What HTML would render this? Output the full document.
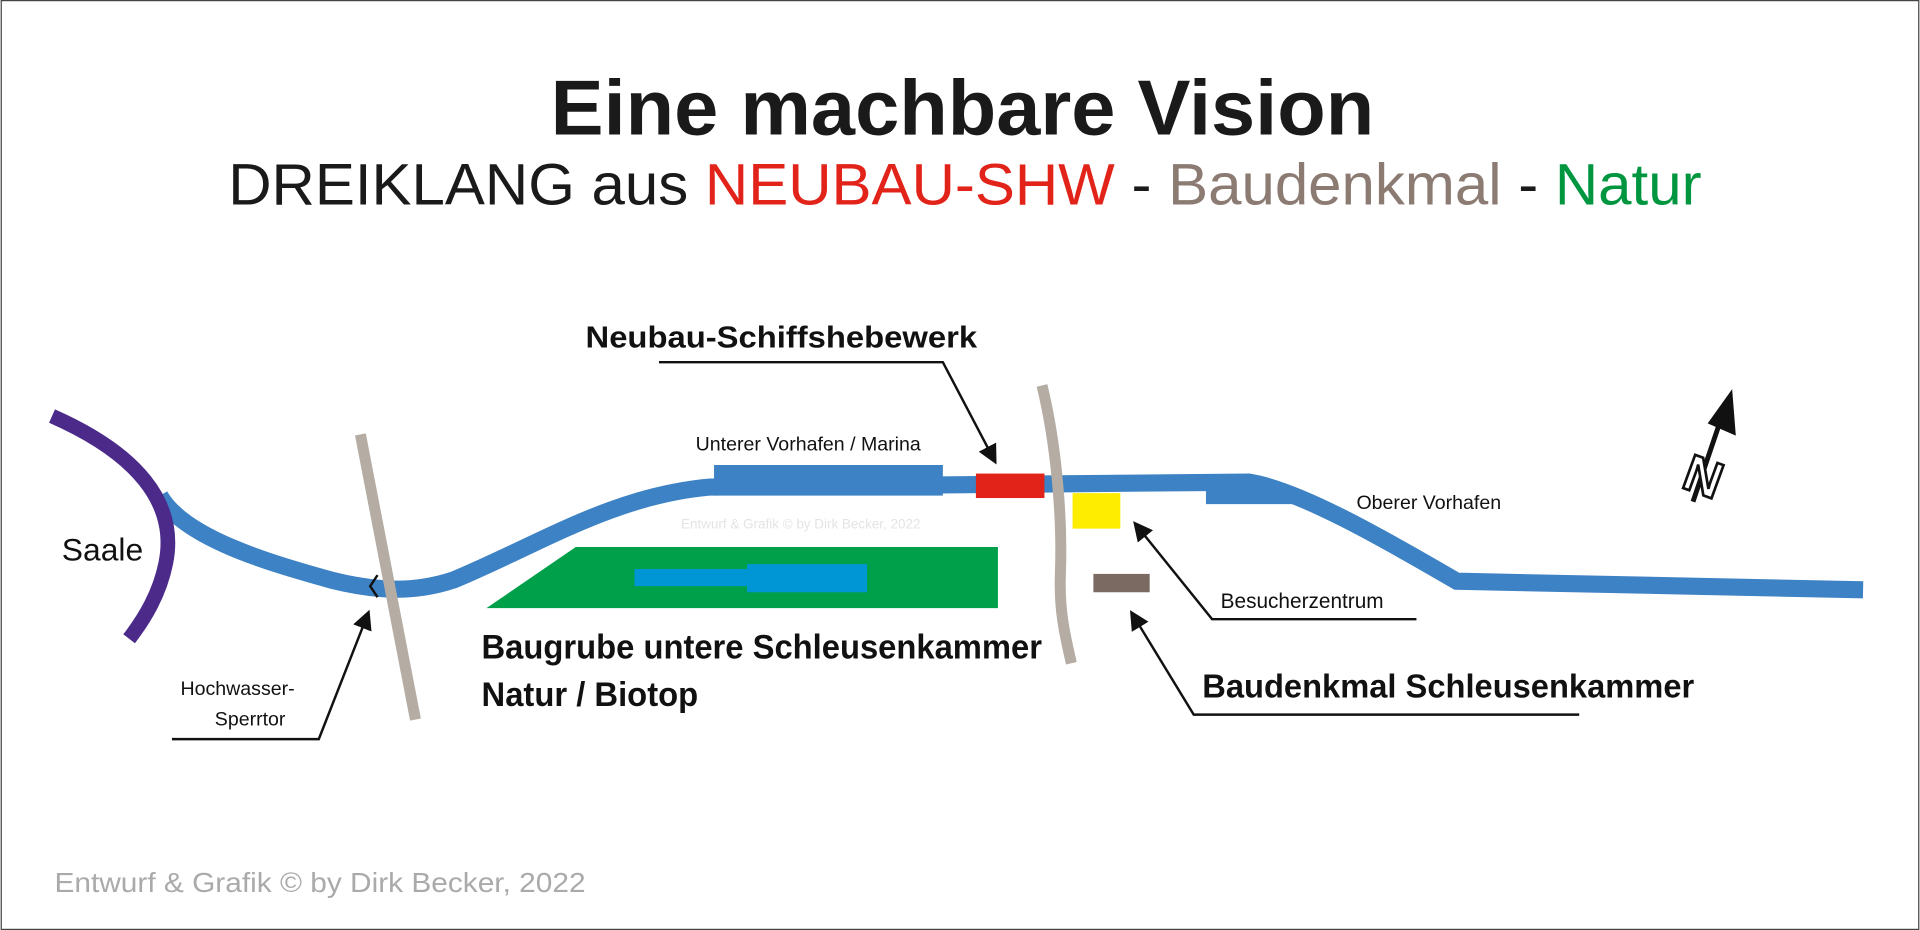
<!DOCTYPE html>
<html><head><meta charset="utf-8"><style>html,body{margin:0;padding:0;background:#fff}svg{display:block}</style></head>
<body>
<svg width="1920" height="930" viewBox="0 0 1568 760" xmlns="http://www.w3.org/2000/svg" font-family="Liberation Sans, sans-serif">
<rect x="0.5" y="0.5" width="1567" height="759" fill="#fff" stroke="#444" stroke-width="1"/>
<defs><marker id="ah" markerWidth="8" markerHeight="8" refX="6" refY="4" orient="auto" markerUnits="strokeWidth"><path d="M0,0 L8,4 L0,8 z" fill="#111"/></marker></defs>
<text x="786" y="110" text-anchor="middle" font-size="64" font-weight="bold" fill="#1a1a1a" textLength="673" lengthAdjust="spacingAndGlyphs">Eine machbare Vision</text>
<text x="788" y="167" text-anchor="middle" font-size="48" fill="#1a1a1a" textLength="1204" lengthAdjust="spacingAndGlyphs">DREIKLANG aus <tspan fill="#e2231a">NEUBAU-SHW</tspan> - <tspan fill="#8c7b72">Baudenkmal</tspan> - <tspan fill="#00963f">Natur</tspan></text>
<!-- green -->
<polygon points="470,447 815,447 815,497 397,497" fill="#00a04a"/>
<rect x="518" y="465" width="92" height="14" fill="#0096d6"/>
<rect x="610" y="461" width="98" height="23" fill="#0096d6"/>
<!-- river -->
<path d="M130,405 C150,440 220,460 270,474 C310,484 340,484 370,474 C440,445 500,405 580,398 L800,396 L1020,394 C1060,400 1130,440 1190,475 L1522,482" fill="none" stroke="#3d82c4" stroke-width="14"/>
<rect x="583" y="380" width="187" height="25" fill="#3d82c4"/>
<polygon points="985,392 1030,392 1045,400 1060,412 985,412" fill="#3d82c4"/>
<!-- Saale -->
<path d="M42,340 C110,370 145,410 135,460 C130,485 118,505 105,522" fill="none" stroke="#4b2a8a" stroke-width="12"/>
<!-- grey bars -->
<line x1="294" y1="355" x2="339" y2="588" stroke="#b5aca3" stroke-width="9"/>
<path d="M851,315 C862,360 868,420 866,470 C865,500 870,520 875,542" fill="none" stroke="#b5aca3" stroke-width="9"/>
<path d="M308,470 L302,479 L308,488" fill="none" stroke="#111" stroke-width="2"/>
<!-- buildings -->
<rect x="797" y="387" width="56" height="20" fill="#e2231a"/>
<rect x="876" y="403" width="39" height="29" fill="#ffed00"/>
<rect x="893" y="469" width="46" height="15" fill="#7a6a62"/>
<!-- labels -->
<text x="478" y="284" font-size="25" font-weight="bold" fill="#111" textLength="320" lengthAdjust="spacingAndGlyphs">Neubau-Schiffshebewerk</text>
<polyline points="538,296 770,296 812,376" fill="none" stroke="#111" stroke-width="2" marker-end="url(#ah)"/>
<text x="568" y="368" font-size="16" fill="#111">Unterer Vorhafen / Marina</text>
<text x="1108" y="416" font-size="16" fill="#111">Oberer Vorhafen</text>
<text x="556" y="432" font-size="11" fill="#e4e4e4">Entwurf &amp; Grafik © by Dirk Becker, 2022</text>
<text x="997" y="497" font-size="17" fill="#111">Besucherzentrum</text>
<polyline points="1157,506 990,506 928,429" fill="none" stroke="#111" stroke-width="2" marker-end="url(#ah)"/>
<text x="982" y="570" font-size="27" font-weight="bold" fill="#111" textLength="402" lengthAdjust="spacingAndGlyphs">Baudenkmal Schleusenkammer</text>
<polyline points="1290,584 975,584 925,502" fill="none" stroke="#111" stroke-width="2" marker-end="url(#ah)"/>
<text x="393" y="538" font-size="28" font-weight="bold" fill="#111" textLength="458" lengthAdjust="spacingAndGlyphs">Baugrube untere Schleusenkammer</text>
<text x="393" y="577" font-size="28" font-weight="bold" fill="#111" textLength="177" lengthAdjust="spacingAndGlyphs">Natur / Biotop</text>
<text x="147" y="568" font-size="16" fill="#111">Hochwasser-</text>
<text x="175" y="593" font-size="16" fill="#111">Sperrtor</text>
<polyline points="140,604 260,604 300,502" fill="none" stroke="#111" stroke-width="2" marker-end="url(#ah)"/>
<text x="50" y="458" font-size="26" fill="#111">Saale</text>
<text x="44" y="729" font-size="23" fill="#aaa" textLength="434" lengthAdjust="spacingAndGlyphs">Entwurf &amp; Grafik © by Dirk Becker, 2022</text>
<!-- north arrow -->
<line x1="1383" y1="410" x2="1405" y2="345" stroke="#111" stroke-width="4"/>
<polygon points="1415,318 1418,356 1395,346" fill="#111"/>
<text x="1392" y="404" font-size="42" font-weight="bold" fill="#fff" stroke="#111" stroke-width="2.2" transform="rotate(20 1392 388)" text-anchor="middle">N</text>
</svg>
</body></html>
